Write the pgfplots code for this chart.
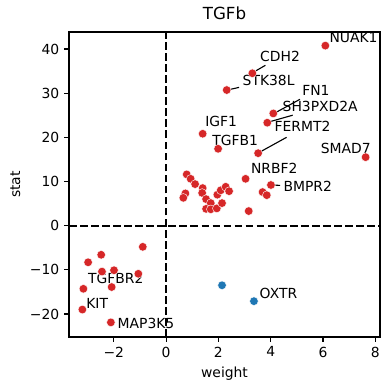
\documentclass[border=0pt]{standalone}
\usepackage{pgfplots}
\pgfplotsset{compat=1.18}
\usepackage{fontspec}
\setmainfont{DejaVu Sans}
\definecolor{mred}{HTML}{D62728}
\definecolor{mblue}{HTML}{1F77B4}
\pgfplotstableread{
x y
6.09 40.75
3.30 34.5
2.32 30.7
4.10 25.4
3.87 23.3
1.40 20.8
1.99 17.4
3.52 16.4
7.63 15.5
3.04 10.6
4.01 9.2
0.79 11.6
0.94 10.6
1.11 9.4
0.74 7.3
0.66 6.3
1.40 8.5
1.38 7.4
1.53 6.0
1.71 5.1
1.53 3.8
1.71 3.7
1.94 3.9
2.14 5.1
1.96 7.0
2.09 8.0
2.28 8.8
2.41 7.8
3.16 3.3
3.69 7.6
3.85 6.9
-0.89 -4.8
-2.48 -6.6
-2.98 -8.3
-2.45 -10.4
-1.99 -10.1
-1.06 -10.9
-3.16 -14.3
-2.08 -13.9
-3.20 -19.0
-2.11 -21.9
}\redtab
\pgfplotstableread{
x y
2.14 -13.5
3.36 -17.1
}\bluetab
\begin{document}
\begin{tikzpicture}
\useasboundingbox (-49.7pt,-38.2pt) rectangle (231.1pt,242.6pt);
\begin{axis}[
  at={(0,0)}, anchor=south west,
  scale only axis, width=223.9pt, height=219.6pt,
  xmin=-3.71, xmax=8.18, ymin=-25.2, ymax=43.85,
  xtick={-2,0,2,4,6,8}, xticklabels={−2,0,2,4,6,8},
  ytick={-20,-10,0,10,20,30,40}, yticklabels={−20,−10,0,10,20,30,40},
  tick align=outside, tick pos=left,
  major tick length=3.5pt,
  every tick/.style={black, line width=0.8pt},
  axis line style={line width=0.8pt},
  tick label style={font=\fontsize{10}{12}\selectfont},
  label style={font=\fontsize{10}{12}\selectfont},
  title style={font=\fontsize{12}{14}\selectfont, yshift=-1pt},
  title={TGFb}, xlabel={weight}, ylabel={stat},
  clip=false,
]
\addplot[black, dashed, line width=1.5pt, dash pattern=on 5.55pt off 2.4pt, forget plot] coordinates {(0,-25.2) (0,43.85)};
\addplot[black, dashed, line width=1.5pt, dash pattern=on 5.55pt off 2.4pt, forget plot] coordinates {(-3.71,0) (8.18,0)};
\addplot[only marks, mark=*, mark size=3.1pt, mark options={draw=white, line width=0.3pt, fill=mred}] table[x=x,y=y] {\redtab};
\addplot[only marks, mark=*, mark size=3.1pt, mark options={draw=white, line width=0.3pt, fill=mblue}] table[x=x,y=y] {\bluetab};
% annotation leader lines
\addplot[black, line width=0.8pt] coordinates {(3.36,34.8) (3.80,36.3)};
\addplot[black, line width=0.8pt] coordinates {(2.42,30.8) (2.79,31.3)};
\addplot[black, line width=0.8pt] coordinates {(4.19,25.6) (5.12,28.6)};
\addplot[black, line width=0.8pt] coordinates {(3.95,23.5) (4.84,25.0)};
\addplot[black, line width=0.8pt] coordinates {(3.57,16.6) (4.61,20.0)};
\addplot[black, line width=0.8pt] coordinates {(4.10,9.2) (4.36,9.1)};
\addplot[black, line width=0.8pt] coordinates {(1.99,17.4) (2.02,17.8)};
\addplot[black, line width=0.8pt] coordinates {(7.63,15.5) (7.60,15.8)};
\begin{scope}[every node/.style={anchor=base west, inner sep=0pt, font=\fontsize{10}{12}\selectfont}]
\node at (axis cs:6.24,41.4) {NUAK1};
\node at (axis cs:3.59,37.1) {CDH2};
\node at (axis cs:2.92,31.7) {STK38L};
\node at (axis cs:5.20,29.5) {FN1};
\node at (axis cs:4.45,25.8) {SH3PXD2A};
\node at (axis cs:1.49,22.4) {IGF1};
\node at (axis cs:1.76,18.2) {TGFB1};
\node at (axis cs:4.14,21.2) {FERMT2};
\node at (axis cs:5.91,16.4) {SMAD7};
\node at (axis cs:3.24,11.8) {NRBF2};
\node at (axis cs:4.48,7.8) {BMPR2};
\node at (axis cs:-2.99,-13.0) {TGFBR2};
\node at (axis cs:-3.06,-18.7) {KIT};
\node at (axis cs:-1.86,-23.2) {MAP3K5};
\node at (axis cs:3.57,-16.5) {OXTR};
\end{scope}
\end{axis}
\end{tikzpicture}
\end{document}
